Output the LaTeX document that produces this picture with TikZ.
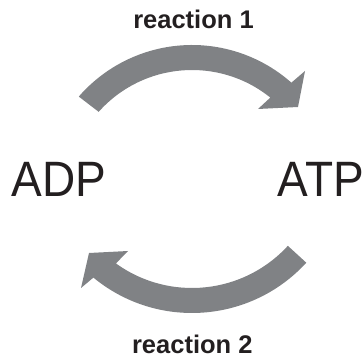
\documentclass[tikz,border=0pt]{standalone}
\usepackage{fontspec}
\setmainfont{Liberation Sans}
\usetikzlibrary{calc}
\definecolor{arrowgray}{RGB}{128,130,133}
\definecolor{ink}{RGB}{35,31,32}
\begin{document}
\begin{tikzpicture}[x=1pt,y=1pt,
  band/.style={fill=arrowgray,draw=none},
  big/.style={inner sep=0pt,font=\fontsize{46}{46}\selectfont,text=ink},
  lbl/.style={inner sep=0pt,font=\bfseries\fontsize{25.5}{25.5}\selectfont,text=ink}]
\useasboundingbox (0,0) rectangle (363,363);
% labels
\node[lbl,anchor=base] (r1) at (193.5,334.8) {reaction 1};
\node[lbl,anchor=base] (r2) at (192.3,9.8) {reaction 2};
\node[big,anchor=base west] (adp) at (11.3,166.3) {\scalebox{1}[1.08]{ADP}};
\node[big,anchor=base east] (atp) at (364,166.3) {\scalebox{1}[1.08]{ATP}};
% top arrow (reaction 1)
\coordinate (c1) at (192,168);
\path[band] ($(c1)+(139:150)$) arc[start angle=139,end angle=48.5,radius=150]
  -- (305,292) -- (298,256) -- (258,254)
  -- ($(c1)+(51.2:125)$) arc[start angle=51.2,end angle=138.3,radius=125] -- cycle;
% bottom arrow (reaction 2)
\coordinate (c2) at (192,205);
\path[band] ($(c2)+(-42.5:155)$) arc[start angle=-42.5,end angle=-129.5,radius=155]
  -- (81,75) -- (89,110) -- (128,112)
  -- ($(c2)+(-125.8:130)$) arc[start angle=-125.8,end angle=-42.5,radius=130] -- cycle;
\end{tikzpicture}
\end{document}
